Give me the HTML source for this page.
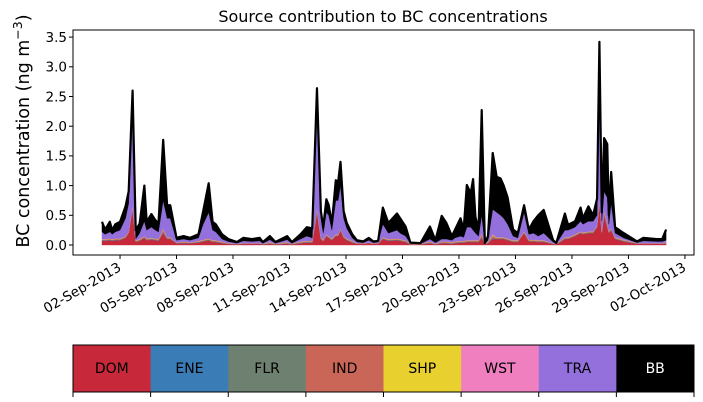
<!DOCTYPE html>
<html><head><meta charset="utf-8"><style>
body{margin:0;background:#fff;}
svg{display:block;font-family:"DejaVu Sans","Liberation Sans",sans-serif;}
</style></head><body>
<svg id="chart" width="703" height="402" viewBox="0 0 703 402"></svg>
<script>
const hours=[1,5,11,14,18,24,31,35,40,44,
49,55,58,64,69,73,79,84,88,96,
105,113,124,130,137,142,146,154,162,173,
181,192,202,206,215,222,237,243,254,262,
269,275,280,283,287,290,294,299,302,305,
309,313,320,326,334,341,347,353,359,366,
377,381,388,394,407,419,426,434,440,447,
451,458,462,466,471,474,477,481,485,489,
493,499,504,509,513,518,525,531,539,545,
551,557,564,576,580,591,595,604,611,614,
621,627,632,635,638,641,645,647,650,655,
666,683,691,708,715,720];
const dom=[.07,.07,.08,.07,.08,.08,.12,.2,.6,.05,
.07,.12,.08,.09,.08,.07,.2,.1,.1,.03,
.03,.03,.04,.06,.08,.05,.05,.03,.02,.01,
.02,.02,.02,.01,.02,.01,.02,.01,.03,.04,
.04,.55,.1,.06,.15,.12,.08,.15,.15,.25,
.12,.08,.04,.02,.02,.03,.02,.02,.1,.07,
.08,.07,.05,.01,.01,.03,.01,.03,.03,.02,
.03,.04,.04,.05,.05,.05,.05,.05,.12,.01,
.03,.1,.1,.1,.1,.08,.05,.05,.2,.06,
.06,.05,.05,.02,.01,.1,.1,.15,.2,.18,
.2,.2,.3,.7,.2,.5,.3,.2,.25,.1,
.06,.02,.02,.02,.02,.02];
const ene=[.005,.005,.005,.005,.005,.005,.005,.005,.01,.005,
.005,.005,.005,.005,.005,.005,.01,.005,.005,.002,
.005,.002,.005,.005,.005,.005,.005,.005,.002,.002,
.002,.002,.002,.002,.005,.002,.005,.002,.005,.005,
.005,.01,.005,.005,.005,.005,.005,.005,.005,.005,
.005,.005,.005,.002,.002,.002,.002,.002,.005,.005,
.005,.005,.005,.002,.002,.005,.002,.005,.005,.005,
.005,.005,.005,.005,.005,.005,.005,.005,.01,.002,
.005,.01,.005,.005,.005,.005,.005,.005,.005,.005,
.005,.005,.005,.002,.002,.005,.005,.005,.005,.005,
.005,.005,.005,.01,.005,.01,.01,.005,.005,.005,
.005,.002,.002,.002,.002,.005];
const flr=[.005,.005,.005,.005,.005,.005,.005,.005,.01,.005,
.005,.005,.005,.005,.005,.005,.01,.005,.005,.002,
.005,.002,.005,.005,.005,.005,.005,.005,.002,.002,
.002,.002,.002,.002,.005,.002,.005,.002,.005,.005,
.005,.01,.005,.005,.005,.005,.005,.005,.005,.005,
.005,.005,.005,.002,.002,.002,.002,.002,.005,.005,
.005,.005,.005,.002,.002,.005,.002,.005,.005,.005,
.005,.005,.005,.005,.005,.005,.005,.005,.01,.002,
.005,.01,.005,.005,.005,.005,.005,.005,.005,.005,
.005,.005,.005,.002,.002,.005,.005,.005,.005,.005,
.005,.005,.005,.01,.005,.01,.01,.005,.005,.005,
.005,.002,.002,.002,.002,.005];
const ind=[.01,.01,.01,.01,.01,.01,.01,.01,.04,.01,
.01,.01,.01,.01,.01,.01,.04,.01,.01,.004,
.01,.004,.01,.01,.01,.01,.01,.01,.004,.004,
.004,.004,.004,.004,.01,.004,.01,.004,.01,.01,
.01,.04,.01,.01,.01,.01,.01,.01,.01,.01,
.01,.01,.01,.004,.004,.004,.004,.004,.01,.01,
.01,.01,.01,.004,.004,.01,.004,.01,.01,.01,
.01,.01,.01,.01,.01,.01,.01,.01,.04,.004,
.01,.04,.01,.01,.01,.01,.01,.01,.01,.01,
.01,.01,.01,.004,.004,.01,.01,.01,.01,.01,
.01,.01,.01,.04,.01,.04,.04,.01,.01,.01,
.01,.004,.004,.004,.004,.01];
const shp=[.006,.006,.006,.006,.006,.006,.006,.006,.01,.006,
.006,.006,.006,.006,.006,.006,.01,.006,.006,.002,
.006,.002,.006,.006,.006,.006,.006,.006,.002,.002,
.002,.002,.002,.002,.006,.002,.006,.002,.006,.006,
.006,.01,.006,.006,.006,.006,.006,.006,.006,.006,
.006,.006,.006,.002,.002,.002,.002,.002,.006,.006,
.006,.006,.006,.002,.002,.006,.002,.006,.006,.006,
.006,.006,.006,.006,.006,.006,.006,.006,.01,.002,
.006,.01,.006,.006,.006,.006,.006,.006,.006,.006,
.006,.006,.006,.002,.002,.006,.006,.006,.006,.006,
.006,.006,.006,.01,.006,.01,.01,.006,.006,.006,
.006,.002,.002,.002,.002,.006];
const wst=[.004,.004,.004,.004,.004,.004,.004,.004,.01,.004,
.004,.004,.004,.004,.004,.004,.01,.004,.004,.002,
.004,.002,.004,.004,.004,.004,.004,.004,.002,.002,
.002,.002,.002,.002,.004,.002,.004,.002,.004,.004,
.004,.01,.004,.004,.004,.004,.004,.004,.004,.004,
.004,.004,.004,.002,.002,.002,.002,.002,.004,.004,
.004,.004,.004,.002,.002,.004,.002,.004,.004,.004,
.004,.004,.004,.004,.004,.004,.004,.004,.01,.002,
.004,.01,.004,.004,.004,.004,.004,.004,.004,.004,
.004,.004,.004,.002,.002,.004,.004,.004,.004,.004,
.004,.004,.004,.01,.004,.01,.01,.004,.004,.004,
.004,.002,.002,.002,.002,.004];
const tra=[.12,.08,.11,.08,.11,.14,.30,.47,1.62,.02,
.10,.25,.14,.18,.14,.12,.47,.32,.32,.038,
.04,.038,.05,.26,.44,.17,.14,.04,.028,.008,
.038,.028,.038,.008,.04,.008,.04,.008,.04,.08,
.05,1.57,.32,.11,.37,.35,.14,.57,.57,.72,
.30,.17,.05,.018,.008,.038,.008,.018,.22,.10,
.14,.10,.07,.008,0,.04,.018,.04,.04,.03,
.06,.08,.06,.22,.22,.17,.12,.07,.30,0,
.02,.42,.42,.37,.32,.24,.07,.04,.32,.09,
.11,.07,.12,.018,0,.12,.12,.12,.17,.14,
.17,.17,.17,2.52,.17,.32,.42,.12,.42,.07,
.03,.008,.038,.028,.028,.03];
const bb=[.17,.08,.17,.07,.13,.14,.20,.20,.30,.15,
.16,.60,.14,.22,.17,.14,1.02,.22,.22,.04,
.05,.04,.06,.22,.49,.14,.13,.08,.04,.02,
.05,.04,.05,.02,.06,.02,.06,.02,.08,.15,
.16,.44,.12,.10,.22,.17,.11,.34,.31,.40,
.12,.09,.06,.03,.02,.04,.02,.02,.28,.17,
.28,.25,.16,.01,.01,.21,.04,.39,.27,.07,
.14,.30,.13,.71,.57,.86,.27,.11,1.77,.01,
.07,.95,.60,.62,.55,.45,.11,.08,.12,.08,
.20,.35,.39,.03,.01,.28,.09,.10,.23,.10,
.25,.10,.28,.12,.15,.90,.90,.15,.53,.10,
.08,.02,.05,.04,.04,.18];
const yTicks=[0,0.5,1,1.5,2,2.5,3,3.5];
const yTickLabels=["0.0","0.5","1.0","1.5","2.0","2.5","3.0","3.5"];
const xTickHours=[24,96,168,240,312,384,456,528,600,672,744];
const xTickLabels=["02-Sep-2013","05-Sep-2013","08-Sep-2013","11-Sep-2013","14-Sep-2013","17-Sep-2013","20-Sep-2013","23-Sep-2013","26-Sep-2013","29-Sep-2013","02-Oct-2013"];
const sources=["DOM","ENE","FLR","IND","SHP","WST","TRA","BB"];
const colors=["#c7293a","#3a7cb6","#6e8070","#c96657","#e8d02e","#f07fc0","#9370db","#000000"];

const NS="http://www.w3.org/2000/svg";
const svg=document.getElementById('chart');
const L=73,R=694,T=30,B=255;
function xs(h){return 101.2+h/24*18.83;}
function ys(v){return 245-v*59.4;}
function mk(tag,attrs,parent){const e=document.createElementNS(NS,tag);for(const k in attrs)e.setAttribute(k,attrs[k]);(parent||svg).appendChild(e);return e;}

const title=mk('text',{x:383,y:22,'text-anchor':'middle','font-size':16,fill:'#000'});


title.textContent='Source contribution to BC concentrations';

const series=[dom,ene,flr,ind,shp,wst,tra,bb];
const cum=hours.map(()=>0);
const plotG=mk('g',{});


series.forEach((s,si)=>{
  const lower=cum.slice();
  for(let i=0;i<hours.length;i++)cum[i]+=s[i];
  let d='M'+hours.map((h,i)=>xs(h).toFixed(2)+','+ys(cum[i]).toFixed(2)).join('L');
  for(let i=hours.length-1;i>=0;i--)d+='L'+xs(hours[i]).toFixed(2)+','+ys(lower[i]).toFixed(2);
  d+='Z';
  const p=mk('path',{d:d,fill:colors[si],stroke:colors[si],'stroke-width':0.4},plotG);
  
  
});
const tl=mk('path',{d:'M'+hours.map((h,i)=>xs(h).toFixed(2)+','+ys(cum[i]).toFixed(2)).join('L'),fill:'none',stroke:'#000','stroke-width':2.2,'stroke-linejoin':'round'},plotG);



const frame=mk('rect',{x:L,y:T,width:R-L,height:B-T,fill:'none',stroke:'#000','stroke-width':1});



yTicks.forEach((v,i)=>{
  const y=ys(v);
  const t=mk('line',{x1:L-4,x2:L,y1:y,y2:y,stroke:'#000','stroke-width':1});
  
  
  const lb=mk('text',{x:L-6,y:y+4.8,'text-anchor':'end','font-size':13.5});
  
  
  lb.textContent=yTickLabels[i];
});
xTickHours.forEach((h,i)=>{
  const x=xs(h);
  const t=mk('line',{x1:x,x2:x,y1:B,y2:B+4,stroke:'#000','stroke-width':1});
  
  
  const lb=mk('text',{transform:'translate('+(x+2)+','+(B+15)+') rotate(-30)','text-anchor':'end','font-size':13.5});
  
  
  lb.textContent=xTickLabels[i];
});
const yl=mk('text',{transform:'translate(29,131) rotate(-90)','text-anchor':'middle','font-size':17.5});


yl.innerHTML='BC concentration (ng m<tspan dy="-7" font-size="12.5">−3</tspan><tspan dy="7">)</tspan>';

const lg=mk('g',{});


const segW=(R-L)/sources.length;
sources.forEach((s,i)=>{
  const x=L+i*segW;
  const r=mk('rect',{x:x,y:345,width:segW+0.5,height:47,fill:colors[i]},lg);
  
  
  const t=mk('text',{x:x+segW/2,y:373,'text-anchor':'middle','font-size':14,fill:s==='BB'?'#fff':'#000'},lg);
  
  
  t.textContent=s;
});
const lf=mk('rect',{x:L,y:345,width:R-L,height:47,fill:'none',stroke:'#000','stroke-width':1},lg);


for(let i=0;i<=sources.length;i++){
  const x=L+i*segW;
  const t=mk('line',{x1:x,x2:x,y1:392,y2:397,stroke:'#000','stroke-width':1},lg);
  
  
}
</script>
</body></html>
